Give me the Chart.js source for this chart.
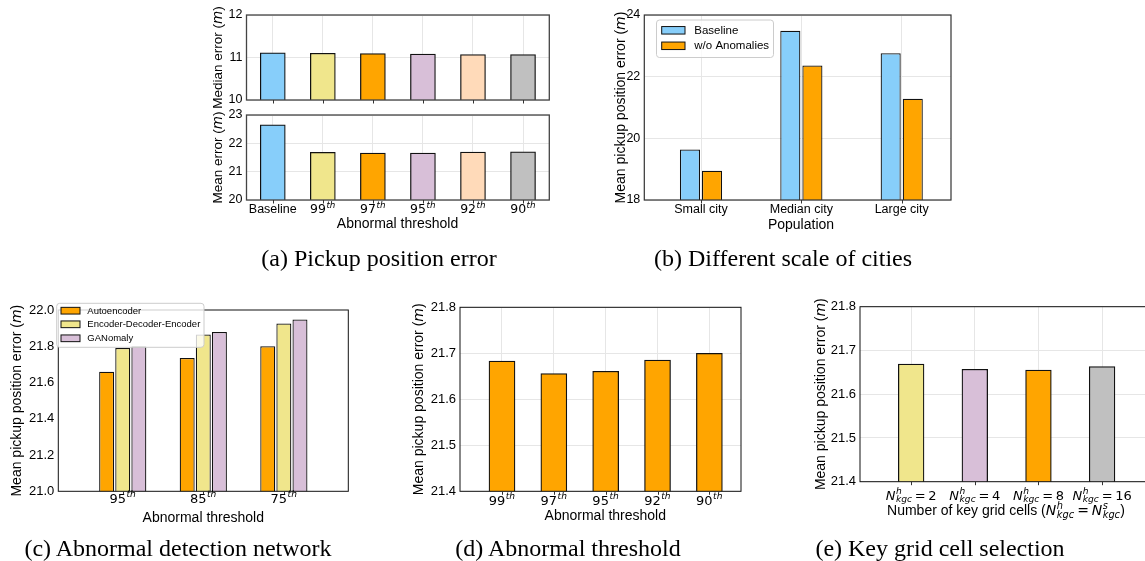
<!DOCTYPE html>
<html>
<head>
<meta charset="utf-8">
<script src="https://cdn.jsdelivr.net/npm/chart.js@4.4.0/dist/chart.umd.min.js"></script>
<style>
  html, body { margin: 0; padding: 0; background: #fff; overflow: hidden; }
  #page { position: relative; width: 1145px; height: 561px; overflow: hidden; }
  canvas { position: absolute; left: 0; top: 0; }
  .cap { position: absolute; font-family: "Liberation Serif", "Times New Roman", serif; font-size: 24px;
         line-height: 24px; white-space: nowrap; transform: translateX(-50%); color: #000; }
</style>
</head>
<body>
<div id="page">
  <canvas id="cA1" width="1200" height="561"></canvas>
  <canvas id="cA2" width="1200" height="561"></canvas>
  <canvas id="cB" width="1200" height="561"></canvas>
  <canvas id="cC" width="1200" height="561"></canvas>
  <canvas id="cD" width="1200" height="561"></canvas>
  <canvas id="cE" width="1200" height="561"></canvas>
  <div class="cap" style="left:379px;top:246px">(a) Pickup position error</div>
  <div class="cap" style="left:783px;top:246px">(b) Different scale of cities</div>
  <div class="cap" style="left:178px;top:536px">(c) Abnormal detection network</div>
  <div class="cap" style="left:568px;top:536px">(d) Abnormal threshold</div>
  <div class="cap" style="left:940px;top:536px">(e) Key grid cell selection</div>
</div>
<script>
// (a) pickup position error
const thresholdsA = ["Baseline", "99", "97", "95", "92", "90"];
const medianError = [11.11, 11.10, 11.09, 11.08, 11.07, 11.07];
const meanError = [22.65, 21.68, 21.66, 21.66, 21.69, 21.70];
const colorsA = ["#87CEFA", "#F0E68C", "#FFA500", "#D8BFD8", "#FFDAB9", "#C0C0C0"];

// (b) different scale of cities
const cities = ["Small city", "Median city", "Large city"];
const cityBaseline = [19.64, 23.49, 22.76];
const cityNoAnomalies = [18.95, 22.36, 21.28];

// (c) abnormal detection network
const thresholdsC = ["95", "85", "75"];
const autoencoder = [21.66, 21.735, 21.80];
const encDecEnc = [21.79, 21.865, 21.925];
const ganomaly = [21.80, 21.878, 21.948];

// (d) abnormal threshold
const thresholdsD = ["99", "97", "95", "92", "90"];
const thresholdError = [21.683, 21.656, 21.661, 21.685, 21.70];

// (e) key grid cell selection
const kgcCounts = [2, 4, 8, 16];
const kgcError = [21.669, 21.657, 21.655, 21.663];
const colorsE = ["#F0E68C", "#D8BFD8", "#FFA500", "#C0C0C0"];

const SANS = '"Liberation Sans", Arial, sans-serif';
const MATH = '"DejaVu Sans", sans-serif';
const GRID = "#e6e6e6";
const EDGE = "#111111";

// rich text: {t, m (math font), i (italic)} or {sup, sub}
function segFont(s, size) {
  return (s.i ? "italic " : "") + size + "px " + (s.m ? MATH : SANS);
}
function drawRich(ctx, segs, x, y, size, align) {
  const parts = segs.map(s => {
    if (s.sup !== undefined || s.sub !== undefined) {
      ctx.font = "italic " + size * 0.7 + "px " + MATH;
      const w1 = s.sup ? ctx.measureText(s.sup).width : 0;
      const w2 = s.sub ? ctx.measureText(s.sub).width : 0;
      return { s, w: Math.max(w1, w2) + size * 0.06 };
    }
    ctx.font = segFont(s, size);
    return { s, w: ctx.measureText(s.t).width };
  });
  const total = parts.reduce((a, p) => a + p.w, 0);
  let cx = align === "left" ? x : x - total / 2;
  ctx.textAlign = "left";
  ctx.textBaseline = "alphabetic";
  parts.forEach(p => {
    const s = p.s;
    if (s.sup !== undefined || s.sub !== undefined) {
      ctx.font = "italic " + size * 0.7 + "px " + MATH;
      const up = s.sub ? 0.45 : 0.4;
      if (s.sup) ctx.fillText(s.sup, cx + size * 0.04, y - size * up);
      if (s.sub) ctx.fillText(s.sub, cx + size * 0.04, y + size * 0.22);
    } else {
      ctx.font = segFont(s, size);
      ctx.fillText(s.t, cx, y);
    }
    cx += p.w;
  });
}

const thLabel = l => l === "Baseline" ? [{ t: l }] : [{ t: l, m: 1 }, { sup: "th" }];
const kgcLabel = n => [{ t: "N", m: 1, i: 1 }, { sup: "h", sub: "kgc" }, { t: "\u2009=\u2009" + n, m: 1 }];
const yTitle = txt => [{ t: txt + " (" }, { t: "m", m: 1, i: 1 }, { t: ")" }];

function drawLegend(ctx, L, chart) {
  ctx.save();
  ctx.fillStyle = "rgba(255,255,255,0.8)";
  ctx.strokeStyle = "#cccccc";
  ctx.lineWidth = 1;
  ctx.beginPath();
  ctx.roundRect(L.x, L.y, L.w, L.h, 3);
  ctx.fill();
  ctx.stroke();
  chart.data.datasets.forEach((ds, i) => {
    const cy = L.rows[i];
    ctx.fillStyle = ds.legendColor || ds.backgroundColor;
    ctx.fillRect(L.px, cy - L.ph / 2, L.pw, L.ph);
    ctx.strokeStyle = EDGE;
    ctx.strokeRect(L.px, cy - L.ph / 2, L.pw, L.ph);
    ctx.fillStyle = "#000";
    ctx.font = L.size + "px " + SANS;
    ctx.textAlign = "left";
    ctx.textBaseline = "middle";
    ctx.fillText(ds.label, L.tx, cy + 0.5);
  });
  ctx.restore();
}

function decorate(chart, o) {
  const ctx = chart.ctx, a = chart.chartArea, xs = chart.scales.x;
  ctx.save();
  ctx.strokeStyle = o.frame || "#111";
  ctx.lineWidth = o.frameW || 1;
  ctx.strokeRect(a.left, a.top, a.right - a.left, a.bottom - a.top);
  ctx.strokeStyle = "#333";
  ctx.lineWidth = 1;
  ctx.beginPath();
  o.xLabels.forEach((_, i) => {
    const px = Math.round(xs.getPixelForValue(i)) + 0.5;
    ctx.moveTo(px, a.bottom);
    ctx.lineTo(px, a.bottom + 3.5);
  });
  ctx.stroke();
  ctx.fillStyle = "#000";
  if (o.xLabelY) o.xLabels.forEach((segs, i) => drawRich(ctx, segs, xs.getPixelForValue(i), o.xLabelY, o.tick));
  if (o.xTitle) drawRich(ctx, o.xTitle, o.xTitleX, o.xTitleY, 14);
  ctx.translate(o.yTitleX, (a.top + a.bottom) / 2);
  ctx.rotate(-Math.PI / 2);
  drawRich(ctx, o.yTitle, 0, 0, o.yTitleSize || 14);
  ctx.restore();
  if (o.legend) drawLegend(ctx, o.legend, chart);
}

function panel(id, o) {
  const W = 1200, H = 561, p = o.plot;
  return new Chart(document.getElementById(id), {
    type: "bar",
    data: { datasets: o.datasets },
    options: {
      responsive: false,
      animation: false,
      events: [],
      layout: { padding: { left: 0, top: p.t, right: W - p.r, bottom: 0 } },
      plugins: { legend: { display: false }, tooltip: { enabled: false } },
      scales: {
        x: {
          type: "linear", min: o.xMin, max: o.xMax, offset: false,
          afterBuildTicks: s => { s.ticks = o.xLabels.map((_, i) => ({ value: i })); },
          afterFit: s => { s.height = H - p.b; },
          ticks: { display: false },
          grid: { display: o.grid, color: GRID, drawTicks: false, offset: false },
          border: { display: false }
        },
        y: {
          min: o.yMin, max: o.yMax,
          afterFit: s => { s.width = p.l; },
          ticks: {
            stepSize: o.yStep, padding: 4, color: "#000",
            font: { family: SANS, size: o.tick },
            callback: v => v.toFixed(o.yDec)
          },
          grid: { display: o.grid, color: GRID, drawTicks: false },
          border: { display: false }
        }
      }
    },
    plugins: [{ id: "deco" + id, afterDraw: c => decorate(c, o) }]
  });
}

const pts = arr => arr.map((v, i) => ({ x: i, y: v }));
const barDs = (label, data, color, extra) => Object.assign({
  label, data: pts(data), backgroundColor: color, borderColor: EDGE, borderWidth: 1.25, legendColor: color
}, extra || {});

// (a) top: median error
panel("cA1", {
  plot: { l: 246.5, t: 15, r: 549.3, b: 100 },
  xMin: -0.525, xMax: 5.525, yMin: 10, yMax: 12, yStep: 1, yDec: 0, tick: 12.5, grid: true,
  frame: "#444", frameW: 1.3,
  datasets: [barDs("Median", medianError, colorsA, { barThickness: 25 })],
  xLabels: thresholdsA.map(thLabel),
  yTitle: yTitle("Median error"), yTitleX: 221.7, yTitleSize: 13.5
});
// (a) bottom: mean error
panel("cA2", {
  plot: { l: 246.5, t: 115, r: 549.3, b: 200 },
  xMin: -0.525, xMax: 5.525, yMin: 20, yMax: 23, yStep: 1, yDec: 0, tick: 12.5, grid: true,
  frame: "#444", frameW: 1.3,
  datasets: [barDs("Mean", meanError, colorsA, { barThickness: 25 })],
  xLabels: thresholdsA.map(thLabel), xLabelY: 213,
  xTitle: [{ t: "Abnormal threshold" }], xTitleX: 397.5, xTitleY: 228.3,
  yTitle: yTitle("Mean error"), yTitleX: 221.7, yTitleSize: 13.5
});
// (b)
panel("cB", {
  plot: { l: 644.3, t: 15, r: 951, b: 200 },
  xMin: -0.565, xMax: 2.491, yMin: 18, yMax: 24, yStep: 2, yDec: 0, tick: 12.5, grid: true,
  frame: "#333", frameW: 1.2,
  datasets: [
    barDs("Baseline", cityBaseline, "#87CEFA", { categoryPercentage: 0.44, barPercentage: 0.91 }),
    barDs("w/o Anomalies", cityNoAnomalies, "#FFA500", { categoryPercentage: 0.44, barPercentage: 0.91 })
  ],
  xLabels: cities.map(c => [{ t: c }]), xLabelY: 213.3,
  xTitle: [{ t: "Population" }], xTitleX: 801, xTitleY: 228.5,
  yTitle: yTitle("Mean pickup position error"), yTitleX: 625.3,
  legend: { x: 656.5, y: 20, w: 117, h: 37.5, px: 661.7, pw: 23.3, ph: 7.5, tx: 694.3, rows: [30.3, 45.8], size: 11.5 }
});
// (c)
panel("cC", {
  plot: { l: 58.3, t: 310, r: 348.3, b: 491.3 },
  xMin: -0.8, xMax: 2.8, yMin: 21, yMax: 22, yStep: 0.2, yDec: 1, tick: 13, grid: false,
  datasets: [
    barDs("Autoencoder", autoencoder, "#FFA500", { categoryPercentage: 0.6, barPercentage: 0.93 }),
    barDs("Encoder-Decoder-Encoder", encDecEnc, "#F0E68C", { categoryPercentage: 0.6, barPercentage: 0.93 }),
    barDs("GANomaly", ganomaly, "#D8BFD8", { categoryPercentage: 0.6, barPercentage: 0.93 })
  ],
  xLabels: thresholdsC.map(thLabel), xLabelY: 502.5,
  xTitle: [{ t: "Abnormal threshold" }], xTitleX: 203.3, xTitleY: 521.7,
  yTitle: yTitle("Mean pickup position error"), yTitleX: 21.1,
  legend: { x: 56.7, y: 303.3, w: 147.3, h: 44, px: 61, pw: 19, ph: 6.7, tx: 87.3, rows: [310.7, 324.3, 338.3], size: 9.5 }
});
// (d)
panel("cD", {
  plot: { l: 460, t: 307.3, r: 741, b: 491.3 },
  xMin: -0.81, xMax: 4.61, yMin: 21.4, yMax: 21.8, yStep: 0.1, yDec: 1, tick: 13, grid: true,
  datasets: [barDs("Threshold", thresholdError, "#FFA500", { barThickness: 26 })],
  xLabels: thresholdsD.map(thLabel), xLabelY: 504.5,
  xTitle: [{ t: "Abnormal threshold" }], xTitleX: 605.3, xTitleY: 520,
  yTitle: yTitle("Mean pickup position error"), yTitleX: 422.6
});
// (e)
panel("cE", {
  plot: { l: 860, t: 306.7, r: 1153, b: 481.7 },
  xMin: -0.804, xMax: 3.8, yMin: 21.4, yMax: 21.8, yStep: 0.1, yDec: 1, tick: 13, grid: true,
  datasets: [barDs("Key grid cells", kgcError, colorsE, { barThickness: 25.7 })],
  xLabels: kgcCounts.map(kgcLabel), xLabelY: 499.5,
  xTitle: [{ t: "Number of key grid cells (" }, { t: "N", m: 1, i: 1 }, { sup: "h", sub: "kgc" },
           { t: "\u2009=\u2009", m: 1 }, { t: "N", m: 1, i: 1 }, { sup: "s", sub: "kgc" }, { t: ")" }],
  xTitleX: 1006, xTitleY: 515,
  yTitle: yTitle("Mean pickup position error"), yTitleX: 824.6
});
</script>
</body>
</html>
